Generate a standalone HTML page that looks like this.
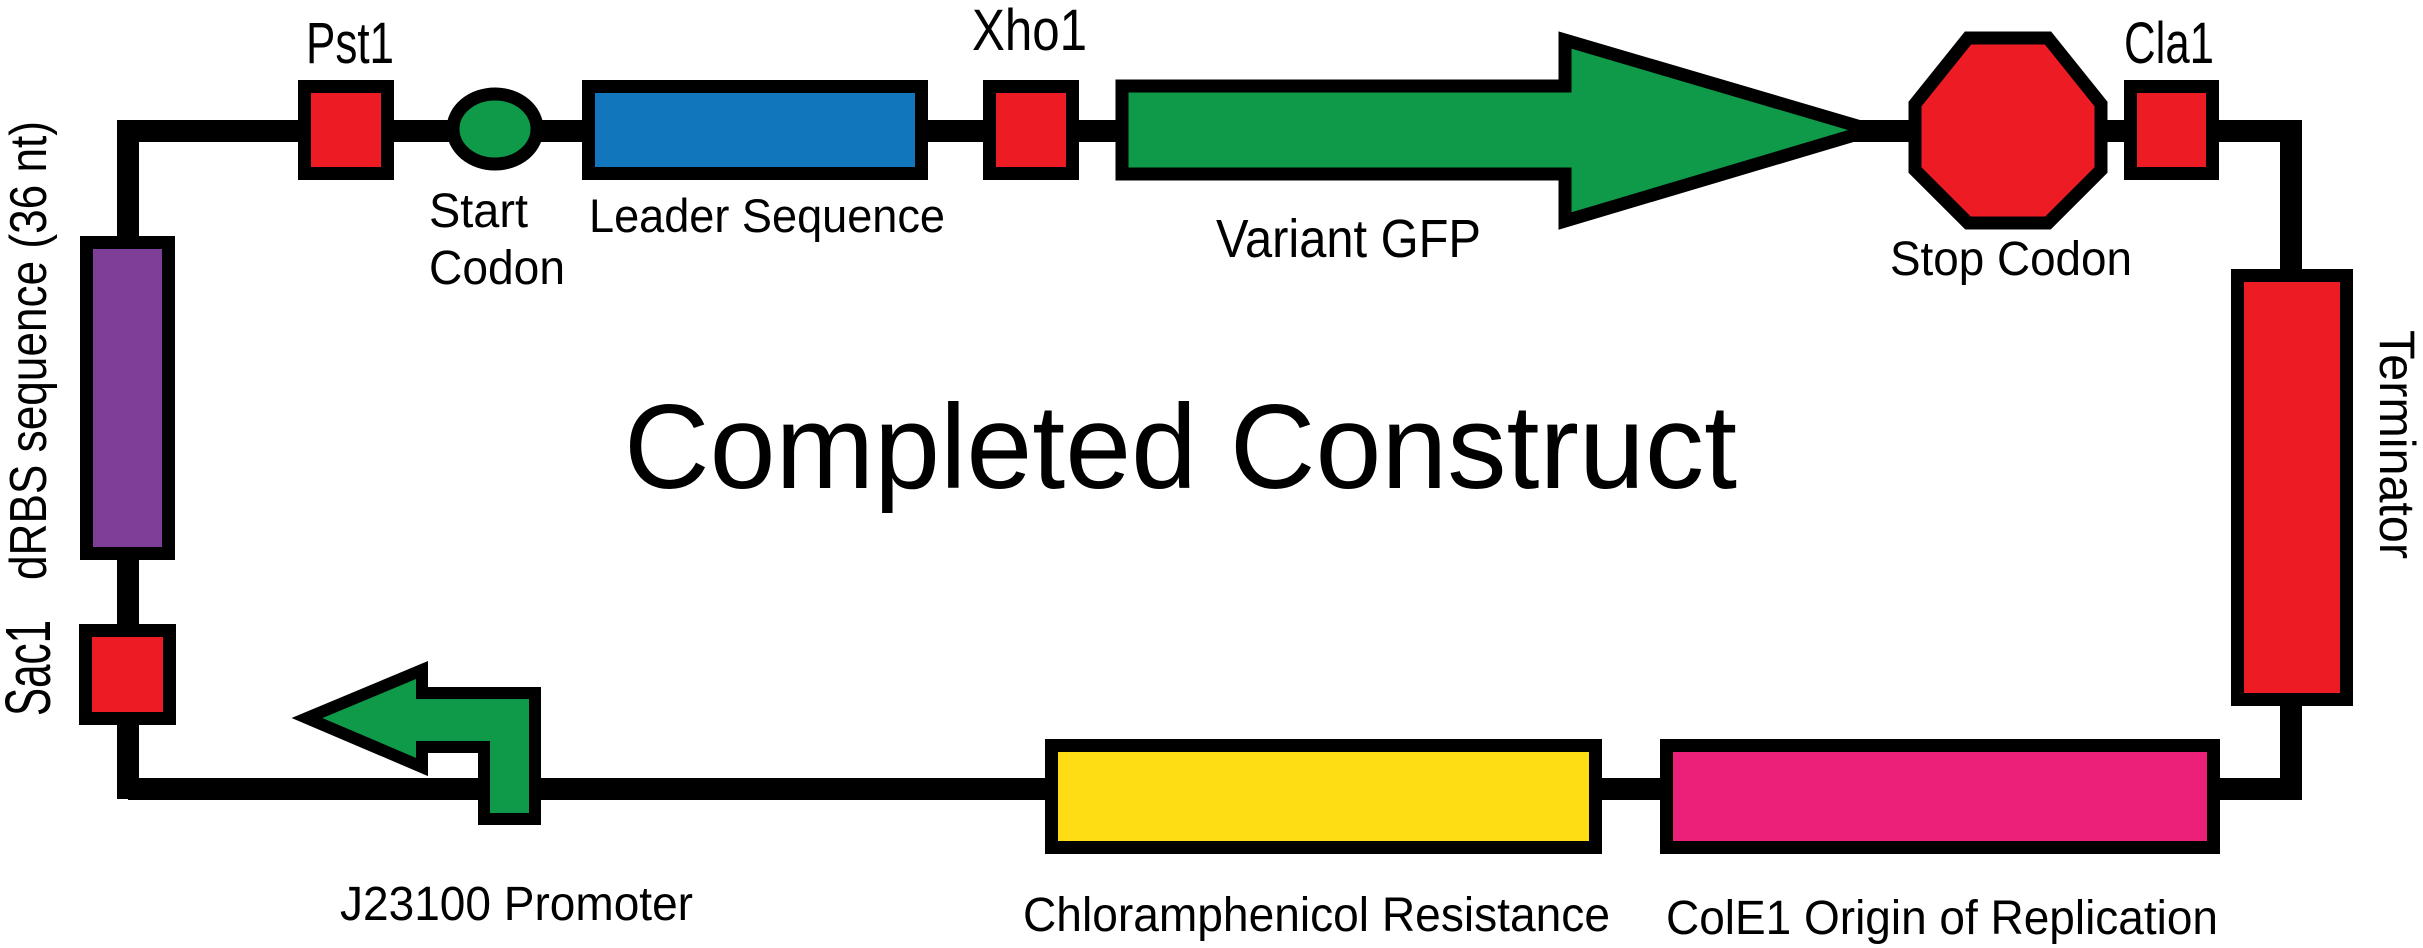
<!DOCTYPE html>
<html><head><meta charset="utf-8"><style>html,body{margin:0;padding:0;background:#fff}svg{display:block}</style></head>
<body>
<svg width="2423" height="948" viewBox="0 0 2423 948" xmlns="http://www.w3.org/2000/svg" font-family="Liberation Sans, sans-serif">
<rect width="2423" height="948" fill="#fff"/>
<path d="M128 799 L128 131 L2291 131 L2291 789 L128 789" fill="none" stroke="#000" stroke-width="22" stroke-linejoin="miter"/>
<g stroke="#000" stroke-width="13">
<rect x="304.5" y="86.5" width="83" height="87" fill="#ed1c24"/>
<ellipse cx="495" cy="129" rx="42" ry="35" fill="#0e9a48"/>
<rect x="588.5" y="86.5" width="333" height="87" fill="#1176bc"/>
<rect x="989.5" y="86.5" width="83" height="87" fill="#ed1c24"/>
<polygon points="1122,86 1565,86 1565,40 1871,130 1565,221 1565,174 1122,174" fill="#0e9a48"/>
<polygon points="1968,38 2048,38 2101,104 2101,170 2048,223 1968,223 1915,170 1915,104" fill="#ed1c24"/>
<rect x="2130.5" y="86.5" width="82" height="87" fill="#ed1c24"/>
<rect x="2237.5" y="275.5" width="109" height="424" fill="#ed1c24"/>
<rect x="86.5" y="242.5" width="82" height="311" fill="#7f3f98"/>
<rect x="85.5" y="630.5" width="84" height="88" fill="#ed1c24"/>
<rect x="1051.5" y="745.5" width="544" height="102" fill="#ffdd15"/>
<rect x="1666.5" y="745.5" width="547" height="102" fill="#ec2079"/>
<polygon points="307,718 422,670 422,693 535,693 535,819 484,819 484,747 422,747 422,767" fill="#0e9a48" stroke-width="12"/>
</g>
<g fill="#000">
<text x="306" y="63" font-size="58" textLength="88" lengthAdjust="spacingAndGlyphs">Pst1</text>
<text x="972" y="50" font-size="58" textLength="115" lengthAdjust="spacingAndGlyphs">Xho1</text>
<text x="2124" y="63" font-size="58" textLength="90" lengthAdjust="spacingAndGlyphs">Cla1</text>
<text x="429" y="227" font-size="48" textLength="99" lengthAdjust="spacingAndGlyphs">Start</text>
<text x="429" y="284" font-size="48" textLength="136" lengthAdjust="spacingAndGlyphs">Codon</text>
<text x="589" y="232" font-size="47" textLength="356" lengthAdjust="spacingAndGlyphs">Leader Sequence</text>
<text x="1216" y="257" font-size="54" textLength="265" lengthAdjust="spacingAndGlyphs">Variant GFP</text>
<text x="1890" y="275" font-size="48" textLength="242" lengthAdjust="spacingAndGlyphs">Stop Codon</text>
<text x="624" y="488" font-size="120" textLength="1113" lengthAdjust="spacingAndGlyphs">Completed Construct</text>
<text x="340" y="920" font-size="48" textLength="353" lengthAdjust="spacingAndGlyphs">J23100 Promoter</text>
<text x="1023" y="931" font-size="48" textLength="587" lengthAdjust="spacingAndGlyphs">Chloramphenicol Resistance</text>
<text x="1666" y="934" font-size="48" textLength="552" lengthAdjust="spacingAndGlyphs">ColE1 Origin of Replication</text>
<text transform="translate(46,580) rotate(-90)" font-size="52" textLength="459" lengthAdjust="spacingAndGlyphs">dRBS sequence (36 nt)</text>
<text transform="translate(50,716) rotate(-90)" font-size="64" textLength="96" lengthAdjust="spacingAndGlyphs">Sac1</text>
<text transform="translate(2380,330) rotate(90)" font-size="50" textLength="229" lengthAdjust="spacingAndGlyphs">Terminator</text>
</g>
</svg>
</body></html>
